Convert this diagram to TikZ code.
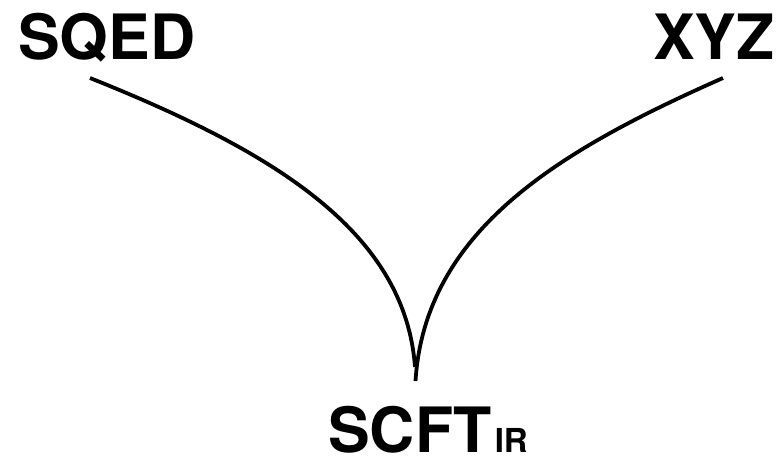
\documentclass[tikz,border=0pt]{standalone}
\usepackage{fontspec}
\setmainfont{TeX Gyre Heros}
\usetikzlibrary{positioning}
\tikzset{
  lab/.style={inner sep=0pt,font=\fontsize{62.5}{70}\selectfont\bfseries},
  sublab/.style={inner sep=0pt,font=\fontsize{33}{36}\selectfont\bfseries},
  flow/.style={draw=black,line width=3.8pt},
}
\begin{document}
\begin{tikzpicture}[x=1pt,y=-1pt]
\useasboundingbox (0,0) rectangle (782,457);
\node[lab,anchor=base west] (sqed) at (18,60) {SQED};
\node[lab,anchor=base east] (xyz) at (775,60) {XYZ};
\node[lab,anchor=base west] (scft) at (328,452) {SCFT};
\node[sublab,anchor=base west] (ir) at ([xshift=3pt]scft.base east) {IR};
\coordinate (lstart) at (90,78);
\coordinate (rstart) at (723,78);
\coordinate (cusp) at (415,367);
\draw[flow] (lstart) .. controls (270,150) and (405,230) .. (cusp);
\draw[flow] (rstart) .. controls (560,150) and (425,230) .. ([xshift=0.5pt,yshift=-14pt]cusp);
\end{tikzpicture}
\end{document}
